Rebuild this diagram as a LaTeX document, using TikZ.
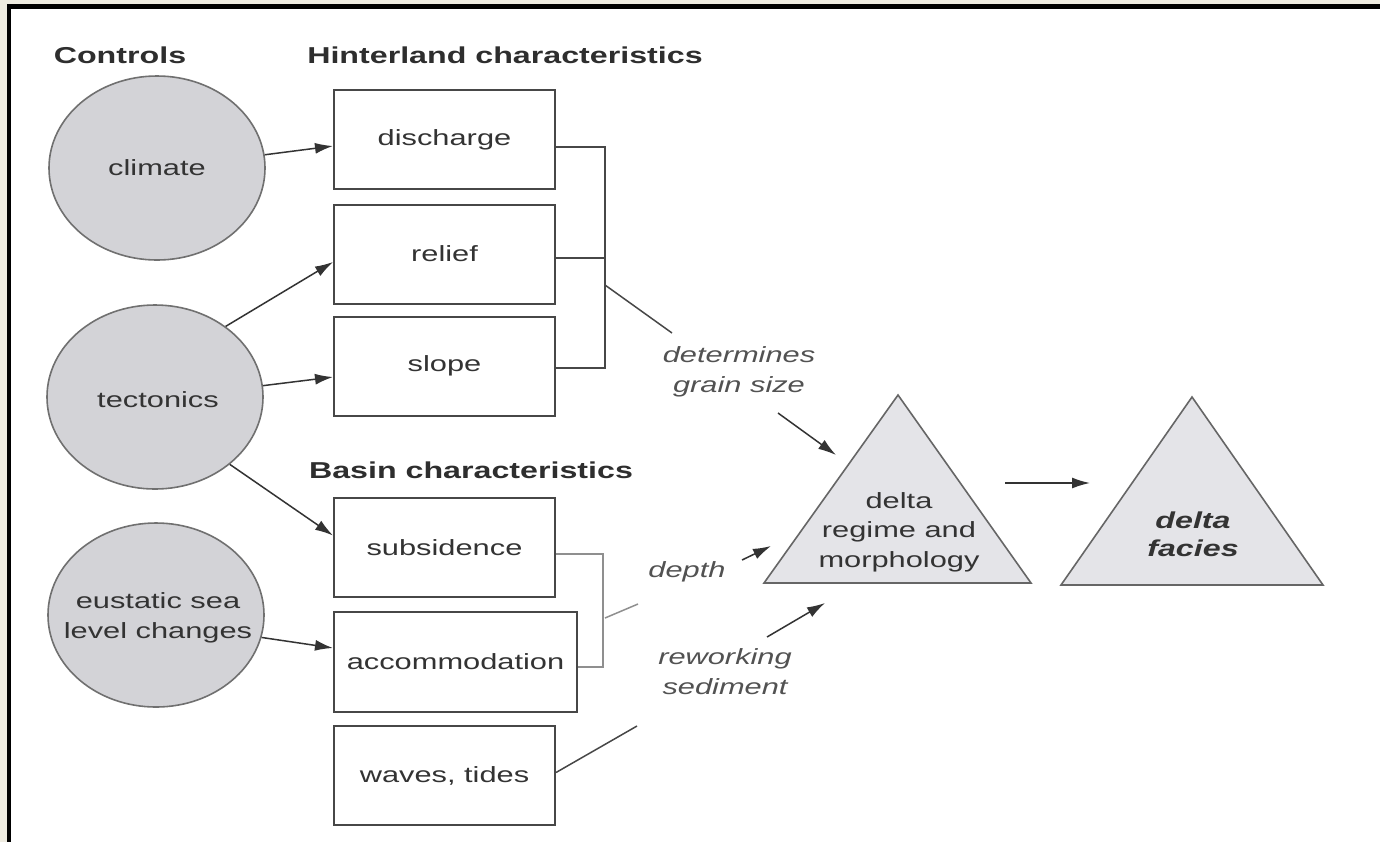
\documentclass[tikz,border=0pt]{standalone}
\usepackage{fontspec}
\setmainfont{Liberation Sans}[FakeStretch=1.4]
\usetikzlibrary{arrows.meta,shapes.geometric}
\definecolor{beige}{HTML}{EEEBE0}
\definecolor{cfill}{HTML}{D3D3D7}
\definecolor{tfill}{HTML}{E4E4E8}
\definecolor{ink}{HTML}{333333}
\begin{document}
\begin{tikzpicture}[x=0.5pt,y=-0.5pt,
  txt/.style={font=\fontsize{11}{15}\selectfont, text=ink, inner sep=0pt, align=center},
  head/.style={font=\fontsize{11.5}{14}\selectfont\bfseries, text=ink!90!black, inner sep=0pt},
  lab/.style={font=\fontsize{11}{15}\selectfont\itshape, text=ink!85, inner sep=0pt, align=center},
  ctrl/.style={ellipse, draw=ink!70, line width=0.8pt, fill=cfill, minimum width=108pt, minimum height=92pt, inner sep=0pt},
  hbox/.style={draw=ink!90, line width=1pt, minimum width=110.5pt, minimum height=49.5pt, inner sep=0pt, txt},
  arr/.style={draw=ink, line width=0.75pt, -{Latex[length=9pt,width=5.5pt]}},
  ln/.style={draw=ink!90, line width=0.75pt},
  lnl/.style={draw=ink!55, line width=0.75pt},
  tri/.style={draw=ink!75, line width=0.8pt, fill=tfill, line join=miter}
]
\useasboundingbox (0,0) rectangle (1380,842);
% frame
\fill[white] (0,0) rectangle (1380,842);
\fill[beige] (0,0) rectangle (1380,4);
\fill[beige] (0,0) rectangle (7,842);
\fill[black] (7,4) rectangle (1380,9);
\fill[black] (7,4) rectangle (11,842);

% headings
\node[head] (hctrl) at (120,55) {Controls};
\node[head] (hhint) at (505,55) {Hinterland characteristics};
\node[head] (hbas) at (471,470) {Basin characteristics};

% controls
\node[ctrl] (climate) at (157,168) {};
\node[txt] (climatet) at (climate) {climate};
\node[ctrl] (tectonics) at (155,397) {};
\node[txt] (tectonicst) at (158,400) {tectonics};
\node[ctrl] (eustatic) at (156,615) {};
\node[txt] (eustatict) at (158,618) {eustatic sea\\level changes};

% boxes
\node[hbox] (discharge) at (444.5,139.5) {discharge};
\node[hbox] (relief) at (444.5,254) {relief};
\node[hbox] (slope) at (444.5,366) {slope};
\node[hbox] (subsidence) at (444.5,547.5) {subsidence};
\node[hbox, minimum width=121.5pt, minimum height=50pt] (accom) at (455.5,662) {accommodation};
\node[hbox] (waves) at (444.5,775.5) {waves, tides};

% arrows from controls
\draw[arr] (climate.7) -- ([yshift=-3.25pt]discharge.west);
\draw[arr] (tectonics.45) -- ([yshift=-4pt]relief.west);
\draw[arr] (tectonics.6) -- ([yshift=-5.5pt]slope.west);
\draw[arr] (tectonics.-42) -- ([yshift=6pt]subsidence.west);
\draw[arr] (eustatic.-12) -- ([yshift=7pt]accom.west);

% hinterland bracket
\coordinate (hb1) at (605,147);
\coordinate (hb2) at (605,258);
\coordinate (hb3) at (605,368);
\draw[ln] (discharge.east |- hb1) -- (hb1) -- (hb3) -- (slope.east |- hb3);
\draw[ln] (relief.east |- hb2) -- (hb2);
\coordinate (hd1) at (605,285);
\coordinate (hd2) at (672,333);
\draw[ln] (hd1) -- (hd2);

% basin bracket
\coordinate (bb1) at (603,554);
\coordinate (bb2) at (603,667);
\draw[lnl] (subsidence.east |- bb1) -- (bb1) -- (bb2) -- (accom.east |- bb2);
\coordinate (bd1) at (605,618);
\coordinate (bd2) at (638,604);
\draw[lnl] (bd1) -- (bd2);

% waves line
\coordinate (wv2) at (637,726);
\draw[ln] ([yshift=1.5pt]waves.east) -- (wv2);

% labels
\node[lab] (lgrain) at (739,372) {determines\\grain size};
\node[lab] (ldepth) at (687,572) {depth};
\node[lab] (lrework) at (725,672) {reworking\\sediment};

% triangles
\coordinate (t1a) at (898,395);
\coordinate (t1l) at (764,583);
\coordinate (t1r) at (1031,583);
\draw[tri] (t1a) -- (t1l) -- (t1r) -- cycle;
\coordinate (t2a) at (1192,397);
\coordinate (t2l) at (1061,585);
\coordinate (t2r) at (1323,585);
\draw[tri] (t2a) -- (t2l) -- (t2r) -- cycle;
\node[txt, font=\fontsize{11}{14.75}\selectfont] (regime) at (899,532) {delta\\regime and\\morphology};
\node[txt, font=\fontsize{11.5}{14}\selectfont\bfseries\itshape] (facies) at (1193,534) {delta\\facies};

% arrows to triangles
\coordinate (ga1) at (778,413);
\coordinate (ga2) at (836,455);
\draw[arr] (ga1) -- (ga2);
\coordinate (da1) at (742,560);
\coordinate (da2) at (771,546);
\draw[arr] (da1) -- (da2);
\coordinate (ra1) at (767,637);
\coordinate (ra2) at (825,603);
\draw[arr] (ra1) -- (ra2);
\coordinate (m1) at (1005,483);
\coordinate (m2) at (1090,483);
\draw[arr] (m1) -- (m2);
\end{tikzpicture}
\end{document}
